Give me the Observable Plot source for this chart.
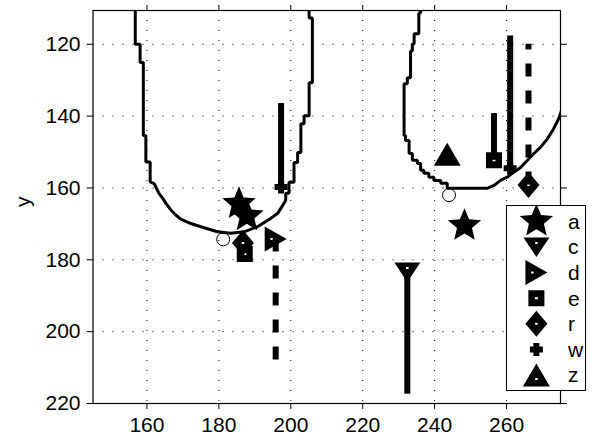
<!DOCTYPE html>
<html><head><meta charset="utf-8">
<script src="https://cdn.jsdelivr.net/npm/d3@7"></script>
<script src="https://cdn.jsdelivr.net/npm/@observablehq/plot@0.6"></script>
<style>
body{margin:0;background:#fff;}
#fig{position:relative;width:595px;height:440px;font-family:"Liberation Sans",Arial,Helvetica,sans-serif;}
#legend{position:absolute;left:506px;top:205px;width:80px;height:186px;border:1.3px solid #000;background:#fff;box-sizing:border-box;}
#legend text{font-family:"Liberation Sans",Arial,Helvetica,sans-serif;font-size:21px;fill:#000;}
</style></head><body><div id="fig"></div>
<script>
// ---- data ----
const xTicks = [160, 180, 200, 220, 240, 260];
const yTicks = [120, 140, 160, 180, 200, 220];
const xDomain = [145, 275];
const yDomain = [110.6, 220];
const seriesNames = ["a", "c", "d", "e", "r", "w", "z"];

const leftCurveX = [156.75,156.75,158.1,158.1,159.0,159.0,159.7,159.7,160.9,160.9,162.0,163.4,164.4,165.3,166.7,168.1,169.4,172.2,175.0,179.6,183.3,187.0,190.7,194.4,196.4,198.1,198.6,198.6,199.5,199.5,200.9,200.9,201.9,201.9,202.8,202.8,203.7,203.7,205.1,205.1,206.0,206.0,205.1,205.1];
const leftCurveY = [110.6,120.0,120.0,125.1,125.1,145.4,145.4,152.8,152.8,158.3,158.8,161.6,162.9,164.3,166.2,167.6,168.7,169.9,170.8,172.2,172.6,172.2,170.8,168.5,167.0,164.3,163.4,161.5,161.5,158.4,158.4,152.9,152.9,150.1,150.1,142.1,142.1,139.9,139.9,130.7,130.7,112.7,112.7,110.6];

const rightCurveX = [236.1,236.1,235.6,235.6,234.3,234.3,233.8,233.8,233.3,233.3,232.4,232.4,231.5,231.5,231.9,231.9,232.9,232.9,233.8,233.8,235.2,235.2,236.1,236.1,237.0,237.0,238.4,238.4,239.8,239.8,241.7,241.7,243.5,243.5,245.8,254.6,256.5,258.3,260.2,262.0,263.9,265.8,267.6,269.4,271.3,273.1,274.5,275.6,277.0];
const rightCurveY = [110.6,111.3,111.3,117.1,117.1,119.9,119.9,121.9,121.9,129.3,129.3,131.0,131.0,145.4,145.4,146.8,146.8,150.4,150.4,152.3,152.3,153.2,153.2,155.1,155.1,155.9,155.9,157.0,157.0,157.9,157.9,158.7,158.7,160.1,160.1,160.1,159.3,157.9,157.0,155.6,154.3,152.3,150.4,148.7,146.4,143.5,140.7,137.6,134.0];

const circleX = [181.2, 244.0];
const circleY = [174.3, 162.0];

const ptSeries = ["a", "a", "a", "c", "d", "e", "e", "r", "r", "w", "w", "z"];
const ptX = [185.6, 187.8, 248.3, 232.4, 195.8, 187.2, 256.5, 186.7, 266.1, 197.3, 261.0, 243.5];
const ptY = [164.4, 167.8, 170.5, 183.4, 174.2, 178.4, 152.3, 175.3, 159.2, 159.7, 154.5, 150.6];

const stemX = [197.3, 195.8, 232.4, 256.5, 261.0, 266.1];
const stemY1 = [159.7, 174.2, 183.4, 152.3, 154.5, 159.2];
const stemY2 = [136.5, 208.0, 217.4, 139.3, 117.7, 120.0];
const stemDashed = [false, true, false, false, false, true];

// ---- symbols ----
function poly(ctx, pts) {
  ctx.moveTo(pts[0][0], pts[0][1]);
  for (let i = 1; i < pts.length; i++) ctx.lineTo(pts[i][0], pts[i][1]);
  ctx.closePath();
}
function hole(ctx, cx, cy, w, h) {
  ctx.moveTo(cx - w / 2, cy - h / 2);
  ctx.lineTo(cx - w / 2, cy + h / 2);
  ctx.lineTo(cx + w / 2, cy + h / 2);
  ctx.lineTo(cx + w / 2, cy - h / 2);
  ctx.closePath();
}
const shapes = {
  a: ctx => { const R = 17.5, r = R * 0.45, pts = [];
    for (let i = 0; i < 10; i++) { const ang = (-90 + i * 36) * Math.PI / 180, rr = i % 2 ? r : R; pts.push([rr * Math.cos(ang), rr * Math.sin(ang)]); }
    poly(ctx, pts); },
  c: ctx => poly(ctx, [[-13, -9.5], [13, -9.5], [0, 10]]),
  d: ctx => poly(ctx, [[-11, -12.5], [11, 0], [-11, 12.5]]),
  e: ctx => poly(ctx, [[-8, -8], [8, -8], [8, 8], [-8, 8]]),
  r: ctx => poly(ctx, [[0, -13], [11, 0], [0, 13], [-11, 0]]),
  w: ctx => poly(ctx, [[-3, -6.5], [3, -6.5], [3, -3], [6.5, -3], [6.5, 3], [3, 3], [3, 6.5], [-3, 6.5], [-3, 3], [-6.5, 3], [-6.5, -3], [-3, -3]]),
  z: ctx => poly(ctx, [[0, -11.5], [13.5, 11.5], [-13.5, 11.5]])
};
const holes = { c: [0, -4, 2.5, 2], d: [-4, 0, 2.5, 2], e: [0, 0, 3, 2], r: [0, 0, 2.5, 2], z: [0, 4, 2.5, 2] };
function makeSymbol(n, withHole) {
  return { draw(ctx) { shapes[n](ctx); if (withHole && holes[n]) hole(ctx, ...holes[n]); } };
}
const plotHole = { c: true, d: true, e: true, r: true, z: false };

// ---- tables ----
const leftCurve = leftCurveX.map((x, i) => ({ x, y: leftCurveY[i] }));
const rightCurve = rightCurveX.map((x, i) => ({ x, y: rightCurveY[i] }));
const circles = circleX.map((x, i) => ({ x, y: circleY[i] }));
const points = ptX.map((x, i) => ({ s: ptSeries[i], x, y: ptY[i] }));
const stems = stemX.map((x, i) => ({ x, y1: stemY1[i], y2: stemY2[i], dashed: stemDashed[i] }));

const FS = 21;
const chart = Plot.plot({
  width: 595, height: 440,
  marginLeft: 92.5, marginRight: 35, marginTop: 10, marginBottom: 37,
  style: { fontFamily: '"Liberation Sans", Arial, Helvetica, sans-serif', background: "#fff", color: "#000" },
  x: { domain: xDomain },
  y: { domain: yDomain, reverse: true },
  marks: [
    Plot.gridX(xTicks, { stroke: "#000", strokeOpacity: 1, strokeWidth: 1, strokeDasharray: "1,9" }),
    Plot.gridY(yTicks, { stroke: "#000", strokeOpacity: 1, strokeWidth: 1, strokeDasharray: "1,9" }),
    Plot.line(leftCurve, { x: "x", y: "y", stroke: "#000", strokeWidth: 3, strokeLinejoin: "miter", clip: true }),
    Plot.line(rightCurve, { x: "x", y: "y", stroke: "#000", strokeWidth: 3, strokeLinejoin: "miter", clip: true }),
    Plot.dot(circles, { x: "x", y: "y", r: 6.5, stroke: "#000", strokeWidth: 1, fill: "none" }),
    Plot.ruleX(stems.filter(d => !d.dashed), { x: "x", y1: "y1", y2: "y2", stroke: "#000", strokeWidth: 6 }),
    Plot.ruleX(stems.filter(d => d.dashed), { x: "x", y1: "y1", y2: "y2", stroke: "#000", strokeWidth: 6, strokeDasharray: "13,14" }),
    ...seriesNames.map(n => Plot.dot(points.filter(d => d.s === n), { x: "x", y: "y", r: 10, symbol: makeSymbol(n, plotHole[n]), fill: "#000", stroke: "none" })),
    Plot.frame({ stroke: "#000", strokeWidth: 1.2 }),
    Plot.axisX(xTicks, { anchor: "bottom", tickSize: 6, tickPadding: 8, fontSize: FS, label: null }),
    Plot.axisX(xTicks, { anchor: "top", tickSize: 6, tickFormat: () => "", label: null }),
    Plot.axisY(yTicks, { anchor: "left", tickSize: 6, tickPadding: 6.5, fontSize: FS, label: null }),
    Plot.axisY(yTicks, { anchor: "right", tickSize: 6, tickFormat: () => "", label: null }),
    Plot.text(["y"], { text: d => d, frameAnchor: "left", dx: -70, rotate: -90, fontSize: FS })
  ]
});
const fig = document.getElementById("fig");
fig.appendChild(chart);

// ---- legend ----
const leg = d3.select(fig).append("div").attr("id", "legend");
const lsvg = leg.append("svg").attr("width", 78).attr("height", 184).style("display", "block");
seriesNames.forEach((n, i) => {
  const y = 15.4 + i * 25.6;
  const p = d3.path();
  makeSymbol(n, true).draw(p);
  lsvg.append("path").attr("d", p.toString()).attr("transform", `translate(29.4,${y})`).attr("fill", "#000");
  lsvg.append("text").attr("x", 61).attr("y", y).attr("dy", "0.35em").text(n);
});
</script>
</body></html>
